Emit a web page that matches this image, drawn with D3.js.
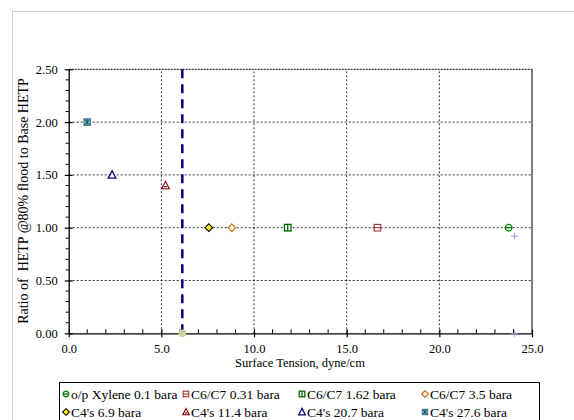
<!DOCTYPE html>
<html><head><meta charset="utf-8">
<script src="https://cdn.jsdelivr.net/npm/d3@7"></script>
<style>body{margin:0;background:#fff}svg{display:block}</style>
</head><body><svg id="c" width="574" height="420"></svg>
<script>
const seriesNames = ["o/p Xylene 0.1 bara","C6/C7 0.31 bara","C6/C7 1.62 bara","C6/C7 3.5 bara","C4's 6.9 bara","C4's 11.4 bara","C4's 20.7 bara","C4's 27.6 bara"];
const surfaceTension = [23.74, 16.66, 11.82, 8.80, 7.56, 5.22, 2.34, 1.0];
const hetpRatio = [1.00, 1.00, 1.00, 1.00, 1.00, 1.40, 1.50, 2.00];
const extraX = [24.06, 24.06];
const extraY = [0.92, 0.00];
const limitX = 6.13;
const limitY = [0, 2.5];
const xTicks = [0,5,10,15,20,25];
const yTicks = [0,0.5,1,1.5,2,2.5];

const FONT = '"Liberation Serif"';
const svg = d3.select("#c");
svg.append("rect").attr("x",12.5).attr("y",11.5).attr("width",600).attr("height",450).attr("fill","#fff").attr("stroke","#d0d0d0");

const x = d3.scaleLinear().domain([0,25]).range([68.7,532]);
const y = d3.scaleLinear().domain([0,2.5]).range([333.3,69.3]);

const g = svg.append("g");
xTicks.slice(1,-1).forEach(t=>g.append("line").attr("x1",x(t)).attr("x2",x(t)).attr("y1",y(0)).attr("y2",y(2.5)).attr("stroke","#000").attr("stroke-width",0.8).attr("stroke-dasharray","2,2"));
yTicks.slice(1,-1).forEach(t=>g.append("line").attr("x1",x(0)).attr("x2",x(25)).attr("y1",y(t)).attr("y2",y(t)).attr("stroke","#000").attr("stroke-width",0.8).attr("stroke-dasharray","2,2"));
g.append("line").attr("x1",x(0)).attr("x2",x(25)).attr("y1",y(2.5)).attr("y2",y(2.5)).attr("stroke","#000").attr("stroke-width",1).attr("stroke-dasharray","2,1");
g.append("line").attr("x1",x(25)).attr("x2",x(25)).attr("y1",y(0)).attr("y2",y(2.5)).attr("stroke","#000").attr("stroke-width",1);

const xAxis = d3.axisBottom(x).tickValues(xTicks).tickFormat(d3.format(".1f")).tickSize(4).tickSizeOuter(0);
const xg = svg.append("g").attr("transform",`translate(0,${y(0)})`).call(xAxis);
xg.select(".domain").attr("stroke","#000").attr("stroke-width",1.3);
xg.selectAll(".tick line").attr("y1",-4).attr("y2",4).attr("stroke-width",1.2);
xg.selectAll("text").attr("font-size",12.5).attr("y",19.5).attr("dy",null).style("font-family",FONT).attr("fill","#000");
const xMinor = d3.range(0,25.01,1).filter(v=>v%5!==0);
xMinor.forEach(v=>svg.append("line").attr("x1",x(v)).attr("x2",x(v)).attr("y1",y(0)).attr("y2",y(0)-4).attr("stroke","#000"));

const yAxis = d3.axisLeft(y).tickValues(yTicks).tickFormat(d3.format(".2f")).tickSize(4).tickSizeOuter(0);
const yg = svg.append("g").attr("transform",`translate(${x(0)},0)`).call(yAxis);
yg.select(".domain").attr("stroke","#000").attr("stroke-width",1.3);
yg.selectAll(".tick line").attr("x1",-4).attr("x2",4).attr("stroke-width",1.2);
yg.selectAll("text").attr("font-size",12.5).attr("x",-11).style("font-family",FONT).attr("fill","#000");
d3.range(0,2.501,0.1).forEach(v=>{ if(Math.abs(v*2-Math.round(v*2))>1e-6) svg.append("line").attr("x1",x(0)).attr("x2",x(0)-3).attr("y1",y(v)).attr("y2",y(v)).attr("stroke","#000");});

svg.append("text").attr("x",300).attr("y",366.5).attr("text-anchor","middle").attr("font-size",12.5).style("font-family",FONT).text("Surface Tension, dyne/cm");
svg.append("text").attr("transform",`translate(28,201) rotate(-90)`).attr("text-anchor","middle").attr("font-size",14).style("font-family",FONT).style("white-space","pre").text("Ratio of  HETP @80% flood to Base HETP");

svg.append("line").attr("x1",x(limitX)).attr("x2",x(limitX)).attr("y1",y(limitY[0])).attr("y2",y(limitY[1])).attr("stroke","#000080").attr("stroke-width",2.5).attr("stroke-dasharray","9,6");
svg.append("circle").attr("cx",x(limitX)).attr("cy",y(limitY[0])).attr("r",3.8).attr("fill","#c4d79b");

extraX.forEach((v,i)=>{
  const px=x(v), py=y(extraY[i]);
  svg.append("path").attr("d",`M${px-3.5},${py}H${px+3.5}M${px},${py-3.5}V${py+3.5}`).attr("stroke","#a099cc").attr("stroke-width",1);
});

function marker(sel,i,cx,cy,r){
  const s=sel.append("g").attr("transform",`translate(${cx},${cy})`);
  const w=1.1;
  switch(i){
    case 0: s.append("circle").attr("r",r).attr("fill","#fff").attr("stroke","#008000").attr("stroke-width",w+0.2);
            s.append("line").attr("x1",-r).attr("x2",r).attr("stroke","#008000").attr("stroke-width",w+0.2); break;
    case 1: s.append("rect").attr("x",-r).attr("y",-r).attr("width",2*r).attr("height",2*r).attr("fill","#fff").attr("stroke","#993333").attr("stroke-width",w);
            s.append("line").attr("x1",-r).attr("x2",r).attr("stroke","#993333").attr("stroke-width",w); break;
    case 2: s.append("rect").attr("x",-r).attr("y",-r).attr("width",2*r).attr("height",2*r).attr("fill","#fff").attr("stroke","#006600").attr("stroke-width",w+0.2);
            s.append("line").attr("y1",-r).attr("y2",r).attr("stroke","#006600").attr("stroke-width",w+0.2); break;
    case 3: s.append("path").attr("d",`M0,${-r-0.5}L${r+0.5},0L0,${r+0.5}L${-r-0.5},0Z`).attr("fill","#fff").attr("stroke","#cc7a29").attr("stroke-width",w+0.2); break;
    case 4: s.append("path").attr("d",`M0,${-r-0.5}L${r+0.5},0L0,${r+0.5}L${-r-0.5},0Z`).attr("fill","#ffff00").attr("stroke","#000").attr("stroke-width",w); break;
    case 5: s.append("path").attr("d",`M0,${-r-0.8}L${r+0.5},${r}L${-r-0.5},${r}Z`).attr("fill","#fff").attr("stroke","#800000").attr("stroke-width",w);
            s.append("line").attr("x1",-r*0.5).attr("x2",r*0.5).attr("y1",r*0.35).attr("y2",r*0.35).attr("stroke","#800000").attr("stroke-width",w); break;
    case 6: s.append("path").attr("d",`M0,${-r-0.8}L${r+0.5},${r}L${-r-0.5},${r}Z`).attr("fill","#fff").attr("stroke","#000080").attr("stroke-width",w+0.2); break;
    case 7: s.append("rect").attr("x",-r).attr("y",-r).attr("width",2*r).attr("height",2*r).attr("fill","#66b3cc").attr("stroke","#336677").attr("stroke-width",0.8);
            s.append("path").attr("d",`M${-r},${-r}L${r},${r}M${r},${-r}L${-r},${r}M0,${-r}V${r}`).attr("stroke","#1f4f5f").attr("stroke-width",0.9); break;
  }
}
seriesNames.forEach((n,i)=>marker(svg,i,x(surfaceTension[i]),y(hetpRatio[i]),3.3));

svg.append("rect").attr("x",59.5).attr("y",382.5).attr("width",480).attr("height",45).attr("fill","#fff").attr("stroke","#000").attr("stroke-width",1);
const colX=[66,186,302,425];
const rowY=[394,412];
seriesNames.forEach((n,i)=>{
  const c=i%4, rr=Math.floor(i/4);
  marker(svg,i,colX[c],rowY[rr],2.8);
  svg.append("text").attr("x",colX[c]+5).attr("y",rowY[rr]+4.5).attr("font-size",13.5).style("font-family",FONT).text(n);
});
</script></body></html>
